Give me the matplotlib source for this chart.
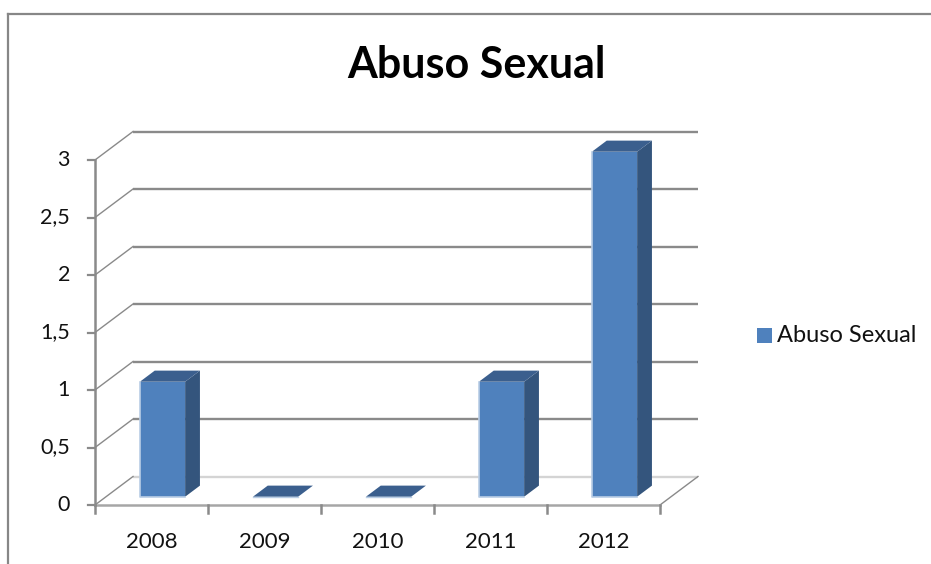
import matplotlib
matplotlib.use("Agg")
import matplotlib.pyplot as plt
from matplotlib.patches import Polygon, Rectangle

# ---- data ----
categories = ["2008", "2009", "2010", "2011", "2012"]
values = [1, 0, 0, 1, 3]
y_ticks = [0, 0.5, 1, 1.5, 2, 2.5, 3]
y_tick_labels = ["0", "0,5", "1", "1,5", "2", "2,5", "3"]
series_name = "Abuso Sexual"
title = "Abuso Sexual"

# ---- style ----
FONT = ["Lato", "DejaVu Sans"]
FRONT = "#4F81BD"
SIDE = "#34557D"
TOP = "#3B5F8E"
GRID = "#8A8A8A"
LIGHT = "#D4D4D4"

W, H = 931, 564
fig = plt.figure(figsize=(W / 100, H / 100), dpi=100)
fig.patch.set_facecolor("white")

# pixel geometry of the plot area
px0, py0 = 95, 505          # data (0,0)
sx, sy = 113.0, 115.0       # px per category / per unit
xlim = (-0.12, 5.5)
ylim = (-0.12, 3.3)
left = px0 + xlim[0] * sx
right = px0 + xlim[1] * sx
bottom = py0 - ylim[0] * sy
top = py0 - ylim[1] * sy
ax = fig.add_axes([left / W, 1 - bottom / H, (right - left) / W, (bottom - top) / H])
ax.set_xlim(*xlim)
ax.set_ylim(*ylim)
ax.axis("off")

n = len(categories)
ymax = y_ticks[-1]
DX = 38 / sx       # depth offset in x data units
DY = 28.5 / sy     # depth offset in y data units

def P(x, y, z):
    return (x + z * DX, y + z * DY)

# back wall gridlines + left wall diagonals
for v in y_ticks:
    col = LIGHT if v == 0 else GRID
    a, b = P(0, v, 1), P(n, v, 1)
    ax.plot([a[0], b[0]], [a[1], b[1]], color=col, lw=1.7, solid_capstyle="butt", zorder=1)
    c = P(0, v, 0)
    ax.plot([c[0], a[0]], [c[1], a[1]], color=GRID, lw=1.0, zorder=1)
# right floor edge
a, b = P(n, 0, 0), P(n, 0, 1)
ax.plot([a[0], b[0]], [a[1], b[1]], color=GRID, lw=1.0, zorder=1)
# front floor edge
ax.plot([0, n], [0, 0], color="#A6A6A6", lw=1.8, zorder=1)
# front y axis
ax.plot([0, 0], [0, ymax], color=GRID, lw=1.8, zorder=5)
for v, lab in zip(y_ticks, y_tick_labels):
    ax.plot([-7 / sx, 0], [v, v], color=GRID, lw=1.6, zorder=5)
    ax.text(-25 / sx, v, lab, ha="right", va="center", fontsize=15.5,
            family=FONT, color="#111111")
# category ticks
for k in range(n + 1):
    ax.plot([k, k], [0, -8 / sy], color=GRID, lw=1.8, zorder=5)
for k, lab in enumerate(categories):
    ax.text(k + 0.5, -37 / sy, lab, ha="center", va="center", fontsize=16,
            family=FONT, color="#111111")

# bars
bw = 0.4
z0, z1 = 0.29, 0.68
for k, v in enumerate(values):
    xa, xb = k + 0.5 - bw / 2, k + 0.5 + bw / 2
    side = [P(xb, 0, z0), P(xb, 0, z1), P(xb, v, z1), P(xb, v, z0)]
    topf = [P(xa, v, z0), P(xb, v, z0), P(xb, v, z1), P(xa, v, z1)]
    if v > 0:
        ax.add_patch(Polygon(side, closed=True, facecolor=SIDE, edgecolor="none", zorder=3))
    ax.add_patch(Polygon(topf, closed=True, facecolor=TOP, edgecolor="none", zorder=3))
    fx, fy = P(xa, 0, z0)
    if v > 0:
        ax.add_patch(Rectangle((fx, fy), bw, v, facecolor=FRONT, edgecolor="none", zorder=4))
        ax.plot([fx, fx, fx + bw], [fy + v, fy, fy], color="#B9CDE5", lw=1.2, zorder=4)
    else:
        ax.plot([fx, fx + bw], [fy, fy], color="#B9CDE5", lw=1.0, zorder=4)

# title
fig.text(476 / W, 1 - 65 / H, title, ha="center", va="center", fontsize=31,
         fontweight="bold", family=FONT, color="#000000")

# legend
fig.patches.append(Rectangle((757 / W, 1 - 343 / H), 15 / W, 15 / H, transform=fig.transFigure,
                             facecolor=FRONT, edgecolor="none"))
fig.text(777 / W, 1 - 335 / H, series_name, ha="left", va="center", fontsize=17,
         family=FONT, color="#111111")

# chart frame (top and left)
fig.add_artist(plt.Line2D([8 / W, 8 / W], [0, 1 - 14 / H], transform=fig.transFigure,
                          color="#878787", lw=1.6))
fig.add_artist(plt.Line2D([8 / W, 1], [1 - 14 / H, 1 - 14 / H], transform=fig.transFigure,
                          color="#878787", lw=1.6))

fig.savefig("out.png", dpi=100, facecolor="white")
